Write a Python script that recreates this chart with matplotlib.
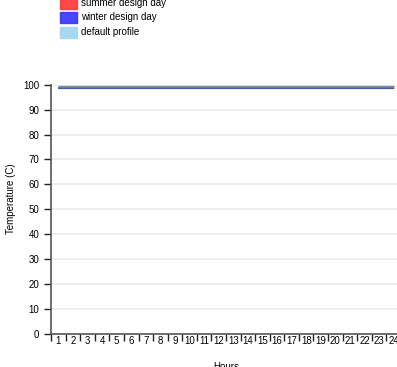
import numpy as np
import matplotlib
matplotlib.use('Agg')
import matplotlib.pyplot as plt
from matplotlib.patches import Rectangle

plt.rcParams['font.family'] = ['Liberation Sans', 'DejaVu Sans']

# ~~~ DATA ~~~
hours = list(range(1, 25))
summer = [99] * 24
winter = [99] * 24
default = [99] * 24
series_names = ['summer design day', 'winter design day', 'default profile']
series_colors = ['#ff3333', '#3333ff', '#a6d8ef']
yticks = list(range(0, 101, 10))

W, H = 397, 367
fig = plt.figure(figsize=(W / 100, H / 100), dpi=100)
ax = fig.add_axes([51 / W, 1 - 334 / H, 350 / W, (334 - 84.7) / H])

# band scale: hour i sits in the middle of band [i-1, i]
xc = np.array(hours) - 0.5
ax.plot(xc, summer, color='#8a8a8a', lw=2.4, solid_capstyle='butt')
ax.plot(xc, np.array(winter) - 0.15, color='#4455aa', lw=1.3, solid_capstyle='butt')
ax.plot(xc, default, color=series_colors[2], lw=0.6, alpha=0.3, solid_capstyle='butt')

ax.set_xlim(0, 24)
ax.set_ylim(0, 100)
ax.set_yticks(yticks)
ax.set_yticklabels([str(v) for v in yticks], fontsize=7)
for v in yticks[1:]:
    ax.axhline(v, color='#ebebeb', lw=1.2, zorder=0)

ax.set_xticks(range(0, 25))
ax.set_xticklabels([''] * 25)
ax.set_xticks(xc, minor=True)
ax.set_xticklabels([str(h) for h in hours], minor=True, fontsize=7)
ax.tick_params(axis='x', which='minor', length=0, pad=1.5)
ax.tick_params(axis='both', which='major', length=5, width=1, color='#222222')

for s in ['top', 'right']:
    ax.spines[s].set_visible(False)
for s in ['left', 'bottom']:
    ax.spines[s].set_color('#555555')
    ax.spines[s].set_linewidth(1.2)

fig.text(11 / W, 1 - 199 / H, 'Temperature (C)', rotation=90, fontsize=7,
         ha='center', va='center')
fig.text(226 / W, 1 - 367 / H, 'Hours', fontsize=7, ha='center', va='center')

# legend at top
for i, (name, c) in enumerate(zip(series_names, series_colors)):
    top = -2.5 + i * 14.5
    fig.patches.append(Rectangle((60 / W, 1 - (top + 11) / H), 16.5 / W, 11 / H,
                                 transform=fig.transFigure, color=c, alpha=0.9 if i < 2 else 1))
    fig.text(81 / W, 1 - (top + 5.5) / H, name, fontsize=7, va='center', ha='left')

plt.savefig('out.png', dpi=100)
